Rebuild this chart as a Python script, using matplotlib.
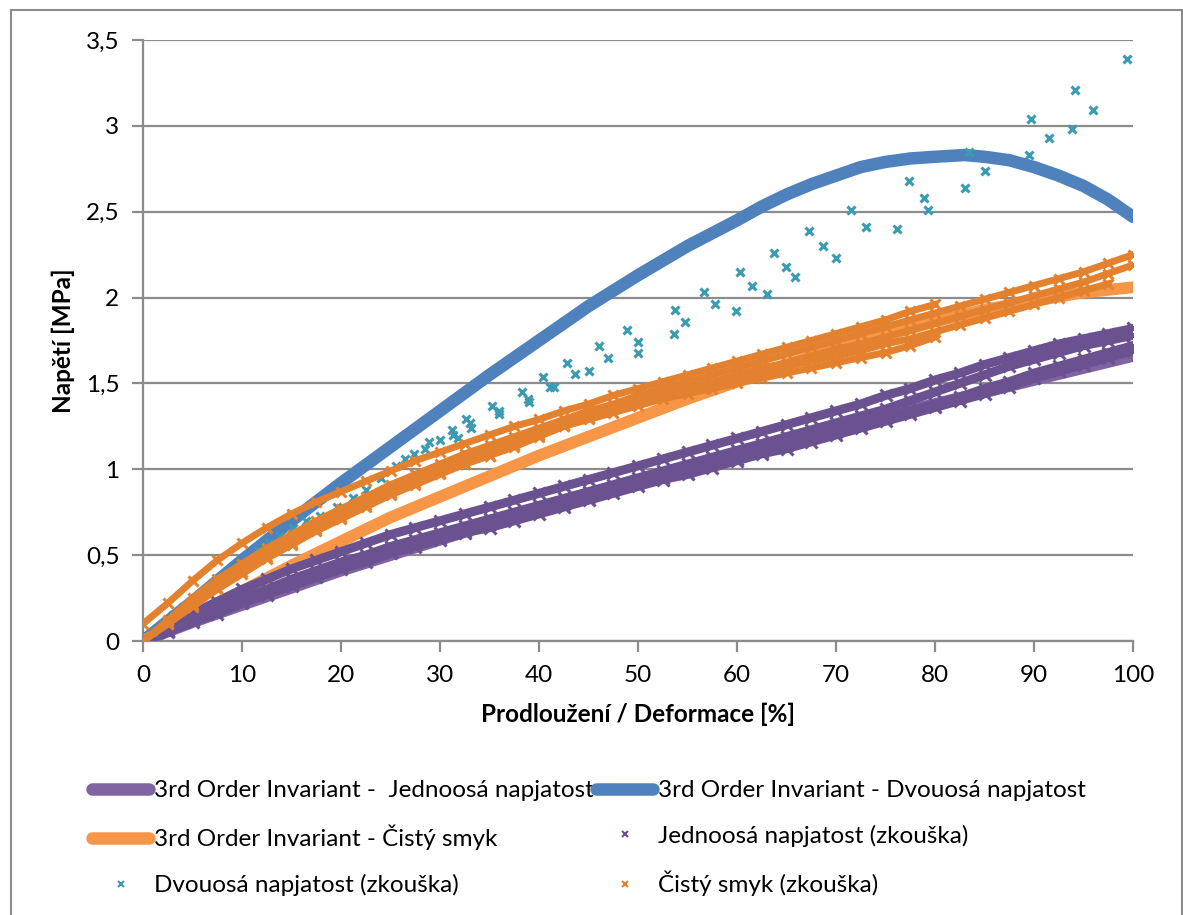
import matplotlib
matplotlib.use("Agg")
import matplotlib.pyplot as plt
import matplotlib.lines as mlines
from matplotlib.patches import Rectangle
from matplotlib.ticker import FuncFormatter

plt.rcParams['font.family'] = ['Lato', 'DejaVu Sans']

STRAIN = [0, 2.5, 5, 7.5, 10, 12.5, 15, 17.5, 20, 22.5,
          25, 27.5, 30, 32.5, 35, 37.5, 40, 42.5, 45, 47.5,
          50, 52.5, 55, 57.5, 60, 62.5, 65, 67.5, 70, 72.5,
          75, 77.5, 80, 82.5, 85, 87.5, 90, 92.5, 95, 97.5, 100]

# 3rd order invariant model curves
fit_x = [0, 5, 10, 15, 20, 25, 30, 35, 40, 45, 50,
         55, 60, 65, 70, 75, 80, 85, 90, 95, 100]
fit_uni = [0, 0.11, 0.21, 0.31, 0.41, 0.50, 0.59, 0.68, 0.77, 0.85, 0.93,
           1.01, 1.09, 1.17, 1.24, 1.31, 1.38, 1.45, 1.52, 1.59, 1.66]
fit_shear = [0, 0.145, 0.29, 0.44, 0.58, 0.72, 0.84, 0.96, 1.08, 1.19, 1.30,
             1.41, 1.51, 1.61, 1.70, 1.78, 1.86, 1.93, 1.98, 2.03, 2.06]
bi_fit_x = [0, 5, 10, 15, 20, 25, 30, 35, 40, 45, 50, 55, 60, 62.5, 65,
            67.5, 70, 72.5, 75, 77.5, 80, 83, 85, 87.5, 90, 92.5, 95, 97.5, 100]
fit_bi = [0, 0.23, 0.47, 0.70, 0.92, 1.13, 1.34, 1.55, 1.75, 1.95, 2.13, 2.30,
          2.45, 2.53, 2.60, 2.66, 2.71, 2.76, 2.79, 2.81, 2.82, 2.83, 2.82,
          2.80, 2.76, 2.71, 2.65, 2.57, 2.47]

# uniaxial tests (several specimens)
uni_tests = [
    [0, 0.08, 0.16, 0.23, 0.30, 0.36, 0.42, 0.47, 0.52, 0.57,
     0.62, 0.66, 0.70, 0.74, 0.78, 0.82, 0.86, 0.90, 0.94, 0.98,
     1.02, 1.06, 1.10, 1.14, 1.18, 1.22, 1.26, 1.30, 1.34, 1.38,
     1.43, 1.47, 1.52, 1.56, 1.61, 1.65, 1.69, 1.73, 1.76, 1.79, 1.82],
    [0, 0.06, 0.13, 0.19, 0.25, 0.30, 0.36, 0.41, 0.46, 0.50,
     0.55, 0.59, 0.63, 0.67, 0.71, 0.75, 0.79, 0.83, 0.87, 0.91,
     0.95, 0.99, 1.03, 1.07, 1.11, 1.15, 1.19, 1.23, 1.27, 1.31,
     1.35, 1.40, 1.45, 1.50, 1.55, 1.60, 1.64, 1.68, 1.72, 1.75, 1.78],
    [0, 0.06, 0.12, 0.18, 0.23, 0.28, 0.33, 0.38, 0.43, 0.48,
     0.52, 0.56, 0.60, 0.64, 0.68, 0.72, 0.76, 0.80, 0.84, 0.88,
     0.92, 0.95, 0.99, 1.03, 1.06, 1.10, 1.14, 1.18, 1.22, 1.26,
     1.30, 1.34, 1.38, 1.42, 1.47, 1.51, 1.56, 1.60, 1.64, 1.68, 1.72],
    [0, 0.05, 0.11, 0.16, 0.22, 0.27, 0.32, 0.37, 0.42, 0.46,
     0.51, 0.55, 0.59, 0.63, 0.66, 0.70, 0.74, 0.78, 0.82, 0.86,
     0.90, 0.94, 0.97, 1.01, 1.05, 1.09, 1.12, 1.16, 1.20, 1.24,
     1.28, 1.32, 1.36, 1.40, 1.44, 1.48, 1.53, 1.57, 1.61, 1.65, 1.69],
]

# pure shear tests
shear_tests = [
    [0.10, 0.22, 0.35, 0.47, 0.57, 0.66, 0.74, 0.81, 0.87, 0.93,
     0.99, 1.05, 1.10, 1.15, 1.20, 1.25, 1.29, 1.34, 1.38, 1.43,
     1.47, 1.51, 1.55, 1.59, 1.63, 1.67, 1.71, 1.75, 1.79, 1.83,
     1.87, 1.92, 1.96],
    [0, 0.12, 0.25, 0.36, 0.45, 0.54, 0.62, 0.70, 0.77, 0.84,
     0.91, 0.97, 1.03, 1.09, 1.14, 1.19, 1.24, 1.29, 1.34, 1.38,
     1.43, 1.47, 1.51, 1.55, 1.59, 1.63, 1.67, 1.71, 1.75, 1.79,
     1.83, 1.87, 1.91, 1.95, 1.99, 2.03, 2.07, 2.11, 2.15, 2.20, 2.25],
    [0, 0.11, 0.23, 0.33, 0.42, 0.51, 0.59, 0.67, 0.74, 0.81,
     0.88, 0.94, 1.00, 1.06, 1.11, 1.16, 1.21, 1.26, 1.30, 1.35,
     1.39, 1.43, 1.47, 1.51, 1.55, 1.59, 1.62, 1.66, 1.70, 1.73,
     1.77, 1.81, 1.85, 1.89, 1.93, 1.97, 2.01, 2.05, 2.09, 2.14, 2.19],
    [0, 0.10, 0.21, 0.31, 0.40, 0.49, 0.57, 0.65, 0.72, 0.79,
     0.86, 0.92, 0.98, 1.03, 1.08, 1.13, 1.19, 1.25, 1.30, 1.35,
     1.39, 1.43, 1.47, 1.50, 1.54, 1.57, 1.60, 1.63, 1.66, 1.69,
     1.73, 1.76, 1.80, 1.84, 1.88, 1.92, 1.96, 2.00, 2.04, 2.08],
    [0, 0.10, 0.20, 0.30, 0.39, 0.48, 0.56, 0.64, 0.71, 0.78,
     0.85, 0.91, 0.97, 1.03, 1.08, 1.14, 1.20, 1.25, 1.29, 1.33,
     1.37, 1.41, 1.44, 1.47, 1.50, 1.53, 1.56, 1.59, 1.62, 1.65,
     1.68, 1.72, 1.77],
]

# equibiaxial test points
bi_x = [1, 2, 3, 4, 5, 6, 7, 8, 9, 10,
        11.6, 12.7, 13.8, 15.2, 16.5, 17.9, 19.6, 21.2, 22.5, 24,
        25.6, 26.5, 27.4, 28.5, 28.9, 30.0, 31.2, 31.3, 31.8, 32.6,
        33.0, 33.1, 35.3, 36.0, 36.0, 38.3, 38.9, 39.0, 40.4, 41.1,
        41.5, 42.8, 43.6, 45.0, 46.1, 47.0, 48.9, 50.0, 50.0, 53.6,
        53.7, 54.7, 56.7, 57.8, 59.9, 60.3, 61.5, 63.0, 63.7, 64.9,
        65.9, 67.3, 68.7, 70.0, 71.5, 73.0, 76.2, 77.4, 78.9, 79.3,
        83.0, 83.4, 85.0, 89.5, 89.7, 91.5, 93.8, 94.1, 96.0, 99.4]
bi_y = [0.05, 0.10, 0.15, 0.20, 0.24, 0.28, 0.32, 0.37, 0.41, 0.45,
        0.53, 0.57, 0.61, 0.66, 0.70, 0.73, 0.78, 0.83, 0.88, 0.95,
        1.02, 1.06, 1.09, 1.12, 1.16, 1.17, 1.23, 1.20, 1.18, 1.29,
        1.27, 1.24, 1.37, 1.34, 1.32, 1.45, 1.41, 1.39, 1.535, 1.48,
        1.48, 1.62, 1.555, 1.57, 1.72, 1.65, 1.81, 1.74, 1.68, 1.79,
        1.93, 1.86, 2.03, 1.96, 1.92, 2.15, 2.07, 2.02, 2.26, 2.18,
        2.12, 2.39, 2.30, 2.23, 2.51, 2.41, 2.40, 2.68, 2.58, 2.51,
        2.64, 2.85, 2.74, 2.83, 3.04, 2.93, 2.98, 3.21, 3.09, 3.39]

labels = ["3rd Order Invariant -  Jednoosá napjatost",
          "3rd Order Invariant - Dvouosá napjatost",
          "3rd Order Invariant - Čistý smyk",
          "Jednoosá napjatost (zkouška)",
          "Dvouosá napjatost (zkouška)",
          "Čistý smyk (zkouška)"]

c_uni_fit, c_bi_fit, c_sh_fit = '#8064A2', '#4F81BD', '#F79646'
c_uni, c_bi, c_sh = '#6A5290', '#3A9BB3', '#E3812F'
grid_c = '#8C8C8C'
FS = 17.5

fig = plt.figure(figsize=(11.83, 9.15), dpi=100)
ax = fig.add_axes([143/1183, 1 - 641/915, 990/1183, 601/915])

ax.plot(fit_x, fit_uni, color=c_uni_fit, lw=8.5, solid_capstyle='round',
        solid_joinstyle='round', zorder=3)
ax.plot(bi_fit_x, fit_bi, color=c_bi_fit, lw=9, solid_capstyle='round',
        solid_joinstyle='round', zorder=3)
ax.plot(fit_x, fit_shear, color=c_sh_fit, lw=8.5, solid_capstyle='round',
        solid_joinstyle='round', zorder=3)

for ys in uni_tests:
    ax.plot(STRAIN[:len(ys)], ys, color=c_uni, lw=6.5, marker='x', ms=8,
            mew=2.2, zorder=4)
ax.plot(bi_x, bi_y, ls='none', color=c_bi, marker='x', ms=6, mew=2.2, zorder=5)
for ys in shear_tests:
    ax.plot(STRAIN[:len(ys)], ys, color=c_sh, lw=5, marker='x', ms=7.5,
            mew=2.2, zorder=6)

ax.set_xlim(0, 100)
ax.set_ylim(0, 3.5)
ax.set_xticks(range(0, 101, 10))
ax.set_yticks([0, 0.5, 1, 1.5, 2, 2.5, 3, 3.5])
ax.yaxis.set_major_formatter(FuncFormatter(lambda v, p: f"{v:g}".replace('.', ',')))
ax.yaxis.grid(True, color=grid_c, lw=1.6)
ax.set_axisbelow(True)
for s in ['top', 'right']:
    ax.spines[s].set_visible(False)
for s in ['left', 'bottom']:
    ax.spines[s].set_color(grid_c)
    ax.spines[s].set_linewidth(1.6)
ax.tick_params(axis='both', colors=grid_c, width=1.6, length=8, labelsize=FS,
               labelcolor='black', pad=9)
ax.set_xlabel("Prodloužení / Deformace [%]", fontsize=FS, fontweight='bold', labelpad=12)
ax.set_ylabel("Napětí [MPa]", fontsize=FS, fontweight='bold', labelpad=8)

handles = [
    mlines.Line2D([], [], color=c_uni_fit, lw=9, solid_capstyle='round'),
    mlines.Line2D([], [], color=c_sh_fit, lw=9, solid_capstyle='round'),
    mlines.Line2D([], [], color=c_bi, ls='none', marker='x', ms=4, mew=1.5),
    mlines.Line2D([], [], color=c_bi_fit, lw=9, solid_capstyle='round'),
    mlines.Line2D([], [], color=c_uni, ls='none', marker='x', ms=4, mew=1.5),
    mlines.Line2D([], [], color=c_sh, ls='none', marker='x', ms=4, mew=1.5),
]
order = [0, 2, 4, 1, 3, 5]
fig.legend(handles, [labels[i] for i in order], ncol=2, frameon=False,
           loc='upper left', bbox_to_anchor=(92/1183, 1 - 780/915),
           fontsize=FS, handlelength=2.35, handletextpad=0.2,
           columnspacing=0.1, labelspacing=0.98, borderpad=0,
           borderaxespad=0)

fig.patches.append(Rectangle((11/1183, -0.1), 1171/1183, 1.1 - 10/915,
                             transform=fig.transFigure, fill=False,
                             edgecolor='#8C8C8C', lw=1.5))

fig.savefig("out.png", dpi=100)
